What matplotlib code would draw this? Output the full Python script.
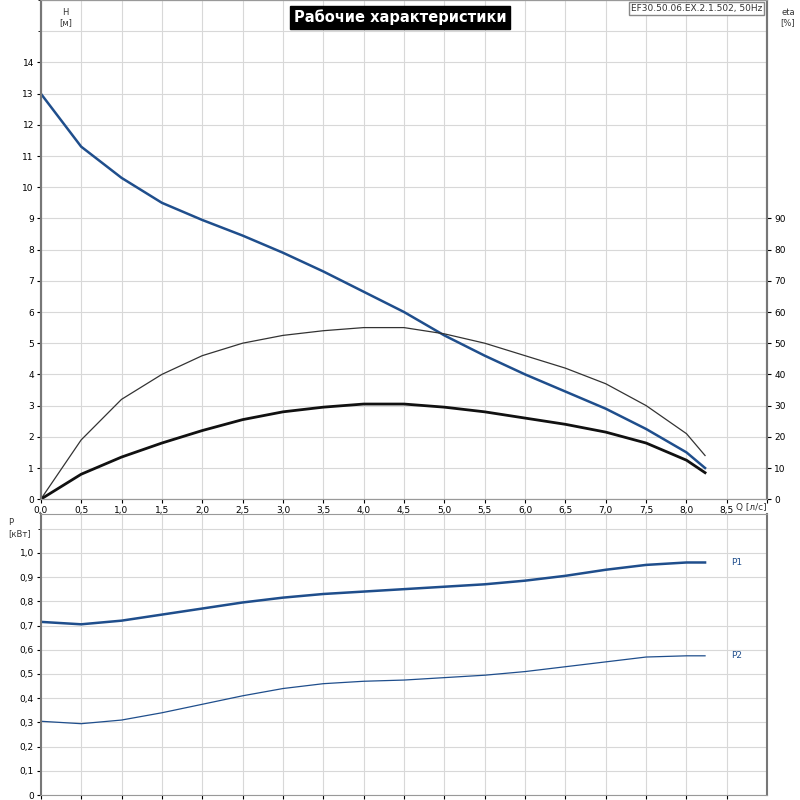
import matplotlib
matplotlib.use("Agg")
import matplotlib.pyplot as plt
import numpy as np

q = [0, 0.5, 1.0, 1.5, 2.0, 2.5, 3.0, 3.5, 4.0, 4.5, 5.0, 5.5, 6.0, 6.5, 7.0, 7.5, 8.0, 8.23]
head = [13.0, 11.3, 10.3, 9.5, 8.95, 8.45, 7.9, 7.3, 6.65, 6.0, 5.25, 4.6, 4.0, 3.45, 2.9, 2.25, 1.5, 1.0]
eta_thin = [0, 19, 32, 40, 46, 50, 52.5, 54, 55, 55, 53, 50, 46, 42, 37, 30, 21, 14]
eta_thick = [0, 8, 13.5, 18, 22, 25.5, 28, 29.5, 30.5, 30.5, 29.5, 28, 26, 24, 21.5, 18, 12.5, 8.5]
p1 = [0.715, 0.705, 0.72, 0.745, 0.77, 0.795, 0.815, 0.83, 0.84, 0.85, 0.86, 0.87, 0.885, 0.905, 0.93, 0.95, 0.96, 0.96]
p2 = [0.305, 0.295, 0.31, 0.34, 0.375, 0.41, 0.44, 0.46, 0.47, 0.475, 0.485, 0.495, 0.51, 0.53, 0.55, 0.57, 0.575, 0.575]

xt = np.arange(0, 9.0, 0.5)
xlabels = [f"{v:.1f}".replace('.', ',') for v in xt]
blue = '#1f4e8c'
gridc = '#d8d8d8'
fs = 6.5

fig = plt.figure(figsize=(8, 8), dpi=100)
ax = fig.add_axes([0.051, 0.376, 0.908, 0.624])
ax.set_xlim(0, 9)
ax.set_ylim(0, 16)
ax.set_xticks(xt)
ax.set_xticklabels(xlabels, fontsize=fs)
ax.set_xticks(np.arange(0, 9.01, 0.5), minor=False)
ax.set_yticks(range(0, 15))
ax.set_yticklabels([str(i) for i in range(15)], fontsize=fs)
ax.set_yticks(range(0, 17), minor=True)
ax.grid(True, which='both', color=gridc, lw=0.8)
ax.tick_params(length=3, pad=2)
ax.plot(q, head, color=blue, lw=1.8)
ax2 = ax.twinx()
ax2.set_ylim(0, 160)
ax2.set_yticks(range(0, 100, 10))
ax2.set_yticklabels([str(i) for i in range(0, 100, 10)], fontsize=fs)
ax2.tick_params(length=3, pad=2)
ax2.plot(q, eta_thin, color='#333333', lw=0.9)
ax2.plot(q, eta_thick, color='#111111', lw=2.0)
for a in (ax, ax2):
    for s in a.spines.values():
        s.set_color('#999999')
    a.spines['left'].set_color('#777777'); a.spines['left'].set_linewidth(1.5)
    a.spines['right'].set_color('#777777'); a.spines['right'].set_linewidth(1.5)
fig.text(0.082, 0.99, 'H\n[м]', fontsize=6, ha='center', va='top', color='#333333')
fig.text(0.985, 0.99, 'eta\n[%]', fontsize=6, ha='center', va='top', color='#333333')
fig.text(0.92, 0.371, 'Q [л/с]', fontsize=6.5, ha='left', va='top', color='#333333')
fig.text(0.5, 0.988, 'Рабочие характеристики', fontsize=10.5, fontweight='bold', color='white',
         ha='center', va='top', bbox=dict(facecolor='black', edgecolor='black', pad=2.5))
fig.text(0.953, 0.995, 'EF30.50.06.EX.2.1.502, 50Hz', fontsize=6.5, ha='right', va='top',
         color='#333333', bbox=dict(facecolor='white', edgecolor='#888888', pad=1.5))

bx = fig.add_axes([0.051, 0.006, 0.908, 0.3515])
bx.set_xlim(0, 9)
bx.set_ylim(0, 1.16)
bx.set_xticks(xt)
bx.set_xticklabels([])
bx.set_yticks(np.arange(0, 1.01, 0.1))
bx.set_yticklabels([f"{v:.1f}".replace('.', ',') if v > 0 else '0' for v in np.arange(0, 1.01, 0.1)], fontsize=fs)
bx.set_yticks([1.1], minor=True)
bx.grid(True, which='both', color=gridc, lw=0.8)
bx.tick_params(length=3, pad=2)
bx.plot(q, p1, color=blue, lw=1.8)
bx.plot(q, p2, color=blue, lw=0.9)
bx.text(8.55, 0.96, 'P1', fontsize=6.5, color=blue, va='center')
bx.text(8.55, 0.575, 'P2', fontsize=6.5, color=blue, va='center')
for s in bx.spines.values():
    s.set_color('#999999')
bx.spines['left'].set_color('#777777'); bx.spines['left'].set_linewidth(1.5)
bx.spines['right'].set_color('#777777'); bx.spines['right'].set_linewidth(1.5)
fig.text(0.01, 0.352, 'P\n[кВт]', fontsize=6, ha='left', va='top', color='#333333')

fig.savefig('out.png', dpi=100)
